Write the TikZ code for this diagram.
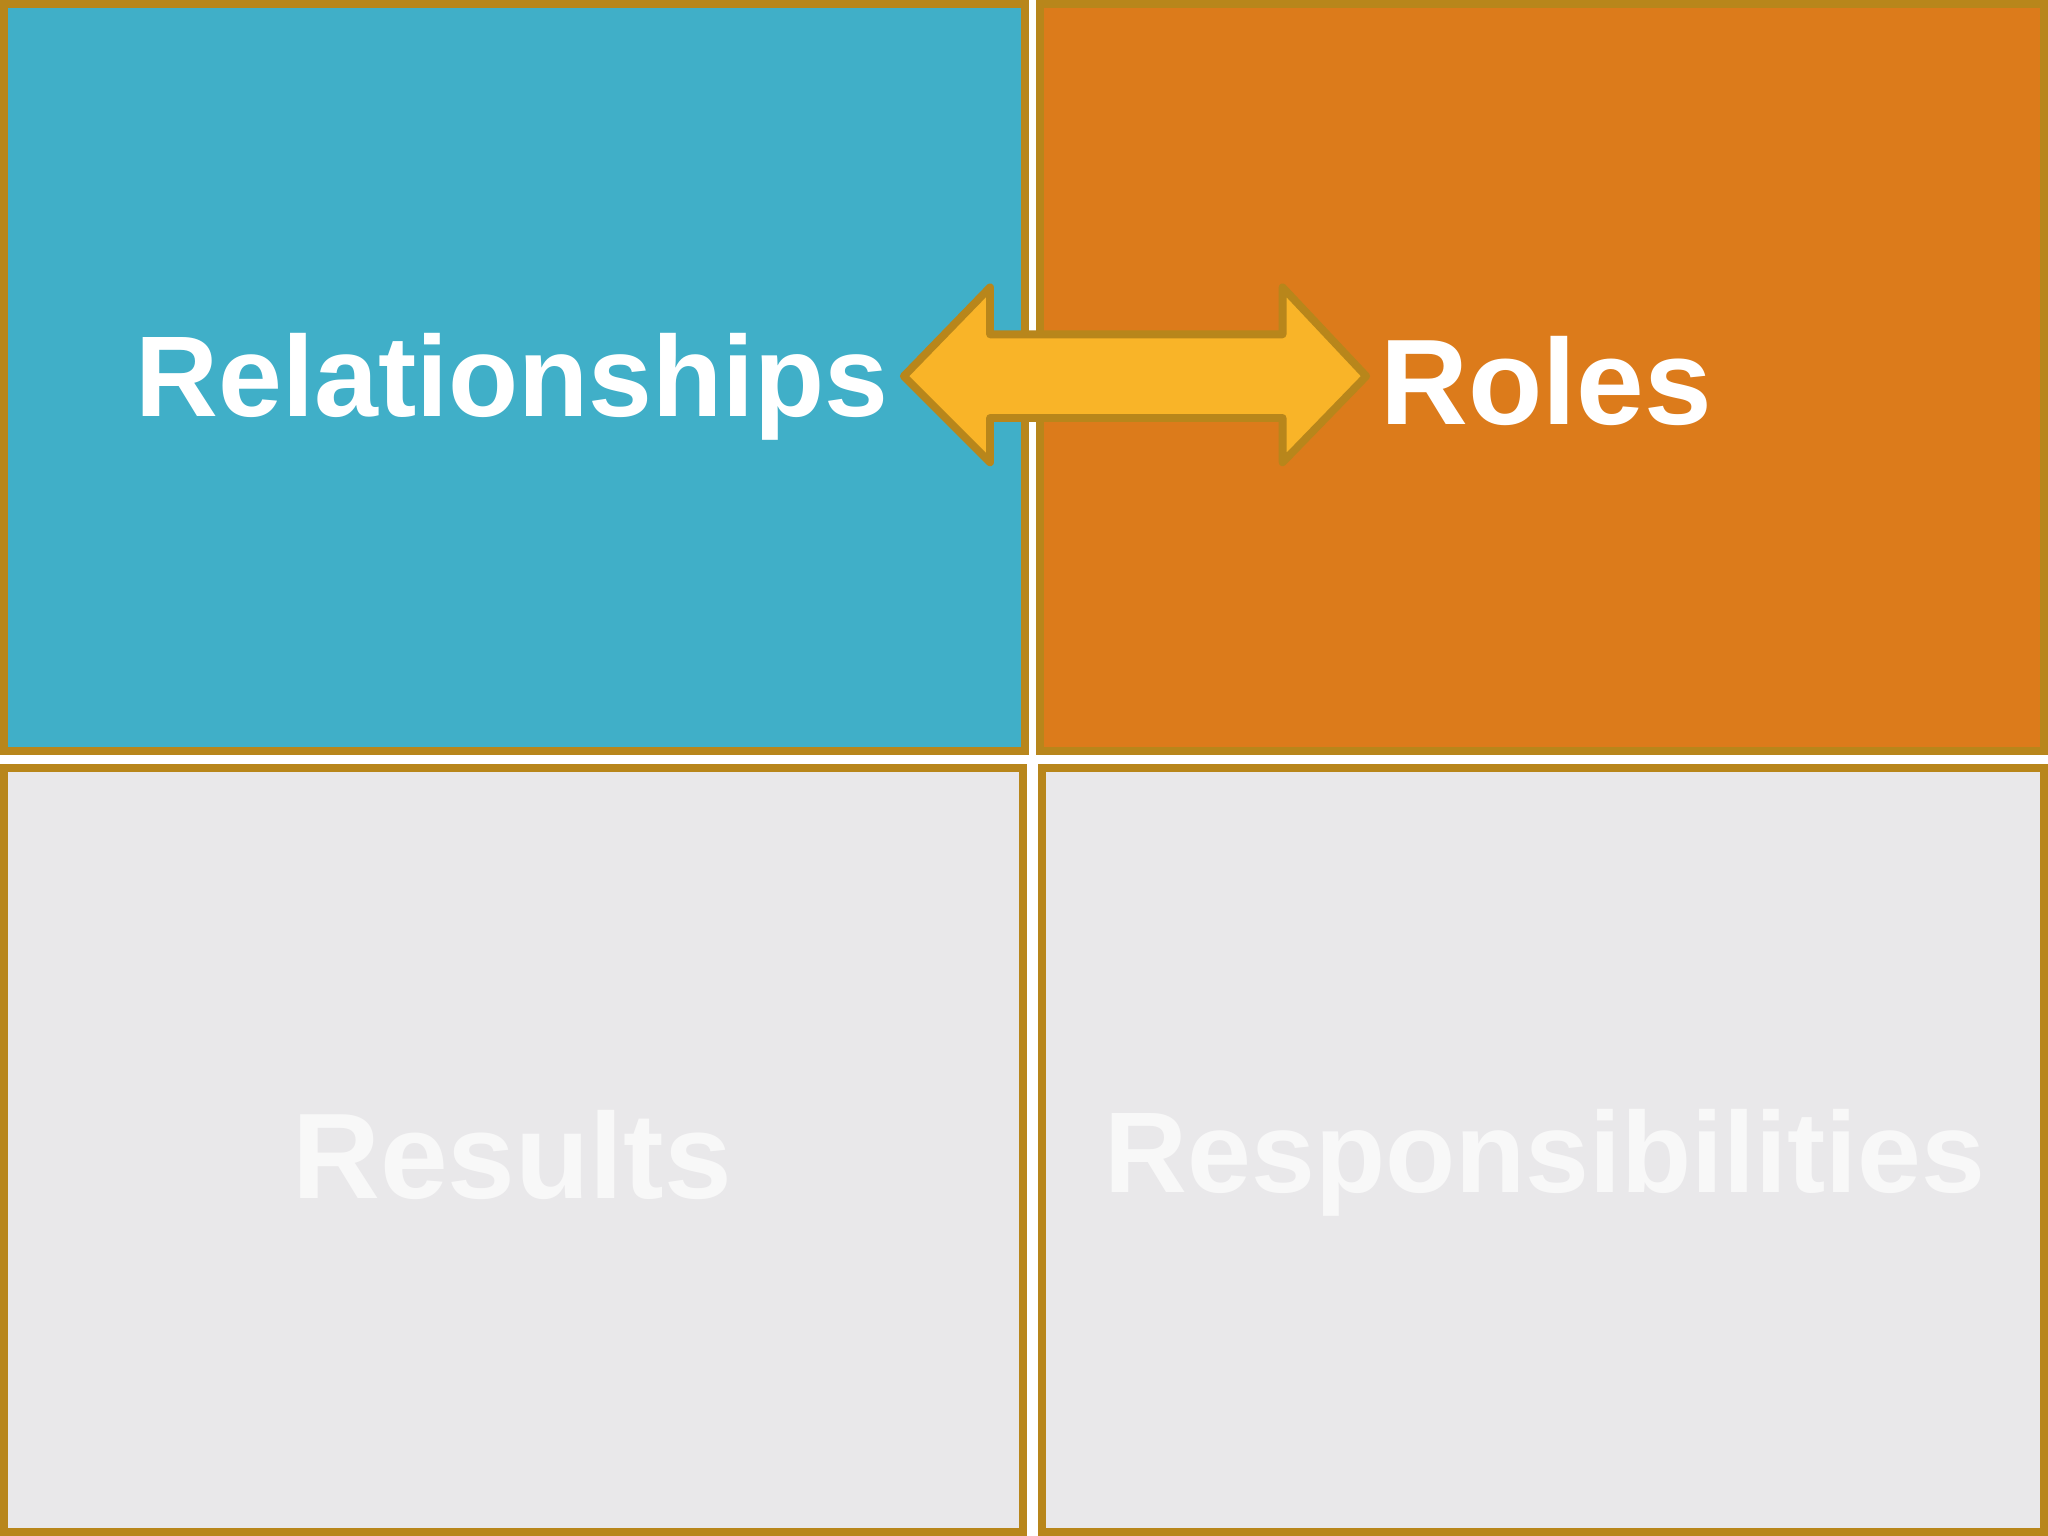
\documentclass[tikz,border=0pt]{standalone}
\usepackage{fontspec}
\setmainfont{Liberation Sans}
\definecolor{gold}{HTML}{B8861B}
\definecolor{qblue}{HTML}{40AFC8}
\definecolor{qorange}{HTML}{DC7B1B}
\definecolor{qgray}{HTML}{E9E8EA}
\definecolor{arrfill}{HTML}{F9B428}
\definecolor{pale}{HTML}{F8F8F8}
\begin{document}
\begin{tikzpicture}[x=0.01cm,y=-0.01cm,
  quad/.style={draw=gold,line width=1.7pt},
  lbl/.style={font=\fontsize{25}{30}\selectfont\bfseries},
  lblb/.style={font=\fontsize{26.5}{30}\selectfont\bfseries}]
\fill[white] (0,0) rectangle (1568,1176);
\useasboundingbox (0,0) rectangle (1568,1176);
\filldraw[quad,fill=qblue] (3,3) rectangle (785,575);
\filldraw[quad,fill=qorange] (796,3) rectangle (1565,575);
\filldraw[quad,fill=qgray] (3,588) rectangle (783,1173);
\filldraw[quad,fill=qgray] (798,588) rectangle (1565,1173);
\node[lbl,text=white] (rel) at (392,296) {Relationships};
\node[lblb,text=white] (rol) at (1184,292) {Roles};
\node[lblb,text=pale] (res) at (392,884) {Results};
\node[lbl,text=pale] (resp) at (1183,890) {Responsibilities};
\filldraw[draw=gold,fill=arrfill,line width=1.7pt,line join=round]
 (692,288) -- (758,220) -- (758,256) -- (982,256) -- (982,220) -- (1046,288)
 -- (982,354) -- (982,320) -- (758,320) -- (758,354) -- cycle;
\end{tikzpicture}
\end{document}
